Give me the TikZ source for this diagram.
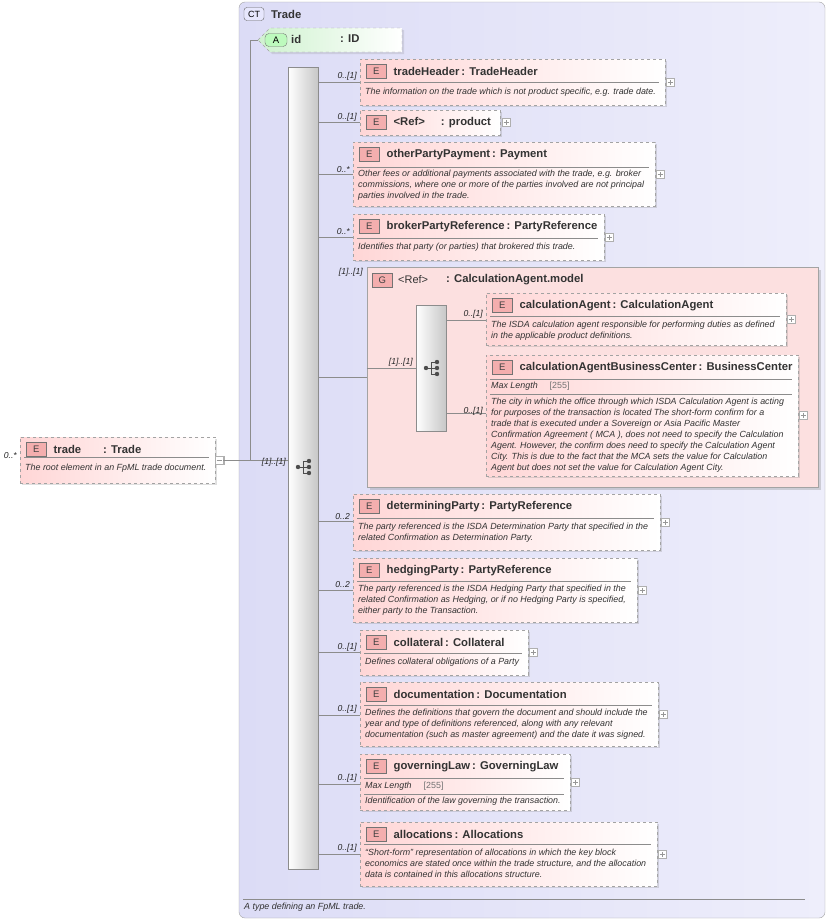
\documentclass[tikz,border=0pt]{standalone}
\usepackage{fontspec}
\setmainfont{Liberation Sans}
\usetikzlibrary{shadows}
\definecolor{frame}{HTML}{DCDCF6}
\definecolor{framer}{HTML}{EEEEFB}
\definecolor{epink}{HTML}{FFD6D6}
\definecolor{gpink}{HTML}{FCE0E0}
\definecolor{badge}{HTML}{F4AEAE}
\definecolor{lgreen}{HTML}{CFF2CF}
\definecolor{ln}{HTML}{8C8C8C}
\tikzset{
  elem/.style={draw=ln!80, dashed, left color=epink, right color=white, inner sep=0pt,
    drop shadow={opacity=0.25, shadow xshift=2pt, shadow yshift=-2pt}},
  ebadge/.style={draw=black!55, fill=badge, minimum width=20pt, minimum height=14pt, inner sep=0pt,
    font=\fontsize{9.5}{9}\selectfont, text=black!75},
  etitle/.style={font=\fontsize{11.3}{12}\selectfont\bfseries, text=black!80, inner sep=0pt},
  desc/.style={font=\fontsize{8.9}{11}\selectfont\itshape, text=black!80, inner sep=0pt, align=left, anchor=north west},
  mult/.style={font=\fontsize{8.6}{9}\selectfont\itshape, text=black!85, inner sep=0pt, anchor=south east},
  sep/.style={draw=ln, line width=0.5pt},
  conn/.style={draw=ln, line width=0.6pt},
  plus/.style={draw=ln!70, fill=white, minimum size=8pt, inner sep=0pt,
    path picture={\draw[ln!90,line width=0.4pt] ([xshift=-2.5pt]path picture bounding box.center)--([xshift=2.5pt]path picture bounding box.center)
      ([yshift=-2.5pt]path picture bounding box.center)--([yshift=2.5pt]path picture bounding box.center);}},
  seqbar/.style={draw=ln, left color=white, right color=black!22, inner sep=0pt},
  seqicon/.pic={\fill[black!70] (-8,0) circle (2.2pt) (3,-6) circle (2.2pt) (3,0) circle (2.2pt) (3,6) circle (2.2pt);
    \draw[black!70,line width=0.8pt] (-8,0)--(-3,0) (-3,-6)--(-3,6) (-3,-6)--(3,-6) (-3,6)--(3,6) (-3,0)--(3,0);}
}
% element box: name, x1, y1, x2, y2, title, separator y
\newcommand\xelem[7]{%
  \node[elem, minimum width={#4pt-#2pt}, minimum height={#5pt-#3pt}] (#1) at ({(#2+#4)/2},{(#3+#5)/2}) {};
  \node[ebadge, anchor=north west] (#1E) at (#2+6,#3+5) {E};
  \node[etitle, anchor=west] at ([xshift=7pt]#1E.east) {#6};
  \path[sep] (#2+4,#7) -- (#4-6,#7);
  \node[plus] (#1p) at (#4+5,{(#3+#5)/2}) {};
}
\begin{document}
\begin{tikzpicture}[x=1pt,y=-1pt]
\useasboundingbox (0,0) rectangle (828,921);
% complex type frame
\node[draw=ln!80, rounded corners=6pt, left color=frame, right color=framer, minimum width=586pt, minimum height=916pt, inner sep=0pt] (ct) at (532,460) {};
\node[draw=black!60, rounded corners=3pt, fill=frame!80!blue!30, minimum width=20pt, minimum height=13pt, inner sep=0pt, font=\fontsize{9}{9}\selectfont] (ctb) at (254,14) {CT};
\node[etitle, anchor=west] at (271,14) {Trade};
\path[sep] (243,899) -- (805,899);
\node[desc, anchor=west] (ctd) at (244,907) {A type defining an FpML trade.};

% attribute id
\path[draw=ln!80, dashed, left color=lgreen, right color=white, drop shadow={opacity=0.2, shadow xshift=2pt, shadow yshift=-2pt}]
  (258,40) -- (270,28) -- (402,28) -- (402,52) -- (270,52) -- cycle;
\node[draw=black!55, rounded corners=4pt, fill=lgreen!70!green!60, minimum width=22pt, minimum height=13pt, inner sep=0pt, font=\fontsize{9.5}{9}\selectfont] (idb) at (276,40) {A};
\node[etitle, anchor=west] (idt) at (291,39) {id};
\node[etitle, anchor=west] at (340,39) {: ID};
\coordinate (idc) at (258,40);

% root element
\xelem{trade}{20}{437}{215}{483}{trade\hspace{22pt}: Trade}{457}
\node[desc] at (25,464) {The root element in an FpML trade document.};
\node[mult] at (17,459) {0..*};
\node[draw=ln!70, fill=white, minimum size=8pt, inner sep=0pt] (tradem) at (219,460) {};
\draw[ln!90,line width=0.4pt] (216.5,460) -- (221.5,460);

% main sequence
\node[seqbar, minimum width=30pt, minimum height=802pt] (seq) at (303,468) {};
\pic at (306,467) {seqicon};
\coordinate (bend) at (250,460);
\draw[conn] (tradem.east) -- (bend) -- (bend |- idc) -- (idc);
\draw[conn] (bend) -- (bend -| seq.west);
\node[mult] at (286,466) {[1]..[1]};

% children
\xelem{th}{360}{59}{665}{105}{tradeHeader\,: TradeHeader}{82}
\node[desc] at (365,88) {The information on the trade which is not product specific, e.g. trade date.};
\draw[conn] (seq.east |- th.west) -- (th.west);
\node[mult] at (357,80) {0..[1]};

\node[elem, minimum width=140pt, minimum height=25pt] (pr) at (430,122.5) {};
\node[ebadge, anchor=north west] (prE) at (366,115) {E};
\node[etitle, anchor=west] at ([xshift=7pt]prE.east) {<Ref>\hspace{16pt}: product};
\node[plus] (prp) at (506,122) {};
\draw[conn] (seq.east |- pr.west) -- (pr.west);
\node[mult] at (357,121) {0..[1]};

\xelem{op}{353}{142}{655}{206}{otherPartyPayment\,: Payment}{167}
\node[desc] at (358,170) {Other fees or additional payments associated with the trade, e.g. broker\\commissions, where one or more of the parties involved are not principal\\parties involved in the trade.};
\draw[conn] (seq.east |- op.west) -- (op.west);
\node[mult] at (350,173) {0..*};

\xelem{bp}{353}{214}{604}{260}{brokerPartyReference\,: PartyReference}{238}
\node[desc] at (358,243) {Identifies that party (or parties) that brokered this trade.};
\draw[conn] (seq.east |- bp.west) -- (bp.west);
\node[mult] at (350,235) {0..*};

% group
\node[draw=ln!80, fill=gpink, minimum width=451pt, minimum height=220pt, inner sep=0pt,
  drop shadow={opacity=0.3, shadow xshift=3pt, shadow yshift=-3pt}] (grp) at (592.5,377) {};
\node[ebadge, anchor=north west] (grpG) at (372,273) {G};
\node[etitle, anchor=west, font=\fontsize{11}{12}\selectfont] at (398,280) {<Ref>};
\node[etitle, anchor=west] at (446,280) {: CalculationAgent.model};
\draw[conn] (seq.east |- grp.west) -- (grp.west);
\node[mult] at (363,276) {[1]..[1]};
\node[seqbar, minimum width=30pt, minimum height=126pt] (seq2) at (431,368) {};
\pic at (434,368) {seqicon};
\draw[conn] (grp.west |- seq2.west) -- (seq2.west);
\node[mult] at (413,366) {[1]..[1]};

\xelem{ca}{486}{293}{786}{345}{calculationAgent\,: CalculationAgent}{316}
\node[desc] at (491,321) {The ISDA calculation agent responsible for performing duties as defined\\in the applicable product definitions.};
\draw[conn] (seq2.east |- 0,320) -- (ca.west |- 0,320);
\node[mult] at (483,318) {0..[1]};

\xelem{cb}{486}{355}{798}{476}{calculationAgentBusinessCenter\,: BusinessCenter}{379}
\node[desc] at (491,382) {Max Length\hspace{12pt}{\upshape\color{black!55}[255]}};
\path[sep] (490,394) -- (792,394);
\node[desc] at (491,397.5) {The city in which the office through which ISDA Calculation Agent is acting\\for purposes of the transaction is located The short-form confirm for a\\trade that is executed under a Sovereign or Asia Pacific Master\\Confirmation Agreement ( MCA ), does not need to specify the Calculation\\Agent. However, the confirm does need to specify the Calculation Agent\\City. This is due to the fact that the MCA sets the value for Calculation\\Agent but does not set the value for Calculation Agent City.};
\draw[conn] (seq2.east |- 0,413) -- (cb.west |- 0,413);
\node[mult] at (483,415) {0..[1]};

\xelem{dp}{353}{494}{660}{550}{determiningParty\,: PartyReference}{518}
\node[desc] at (358,523) {The party referenced is the ISDA Determination Party that specified in the\\related Confirmation as Determination Party.};
\draw[conn] (seq.east |- 0,521) -- (dp.west |- 0,521);
\node[mult] at (350,520) {0..2};

\xelem{hp}{353}{558}{637}{622}{hedgingParty\,: PartyReference}{581}
\node[desc] at (358,585) {The party referenced is the ISDA Hedging Party that specified in the\\related Confirmation as Hedging, or if no Hedging Party is specified,\\either party to the Transaction.};
\draw[conn] (seq.east |- 0,590) -- (hp.west |- 0,590);
\node[mult] at (350,588) {0..2};

\xelem{co}{360}{630}{528}{675}{collateral\,: Collateral}{653}
\node[desc] at (365,658) {Defines collateral obligations of a Party};
\draw[conn] (seq.east |- 0,652) -- (co.west |- 0,652);
\node[mult] at (357,651) {0..[1]};

\xelem{dc}{360}{682}{658}{746}{documentation\,: Documentation}{705}
\node[desc] at (365,709) {Defines the definitions that govern the document and should include the\\year and type of definitions referenced, along with any relevant\\documentation (such as master agreement) and the date it was signed.};
\draw[conn] (seq.east |- 0,715) -- (dc.west |- 0,715);
\node[mult] at (357,713) {0..[1]};

\xelem{gl}{360}{754}{570}{810}{governingLaw\,: GoverningLaw}{778}
\node[desc] at (365,782) {Max Length\hspace{12pt}{\upshape\color{black!55}[255]}};
\path[sep] (364,794) -- (564,794);
\node[desc] at (365,796.5) {Identification of the law governing the transaction.};
\draw[conn] (seq.east |- 0,784) -- (gl.west |- 0,784);
\node[mult] at (357,782) {0..[1]};

\xelem{al}{360}{822}{657}{886}{allocations\,: Allocations}{844}
\node[desc] at (365,849) {``Short-form'' representation of allocations in which the key block\\economics are stated once within the trade structure, and the allocation\\data is contained in this allocations structure.};
\draw[conn] (seq.east |- 0,854) -- (al.west |- 0,854);
\node[mult] at (357,852) {0..[1]};
\end{tikzpicture}
\end{document}
